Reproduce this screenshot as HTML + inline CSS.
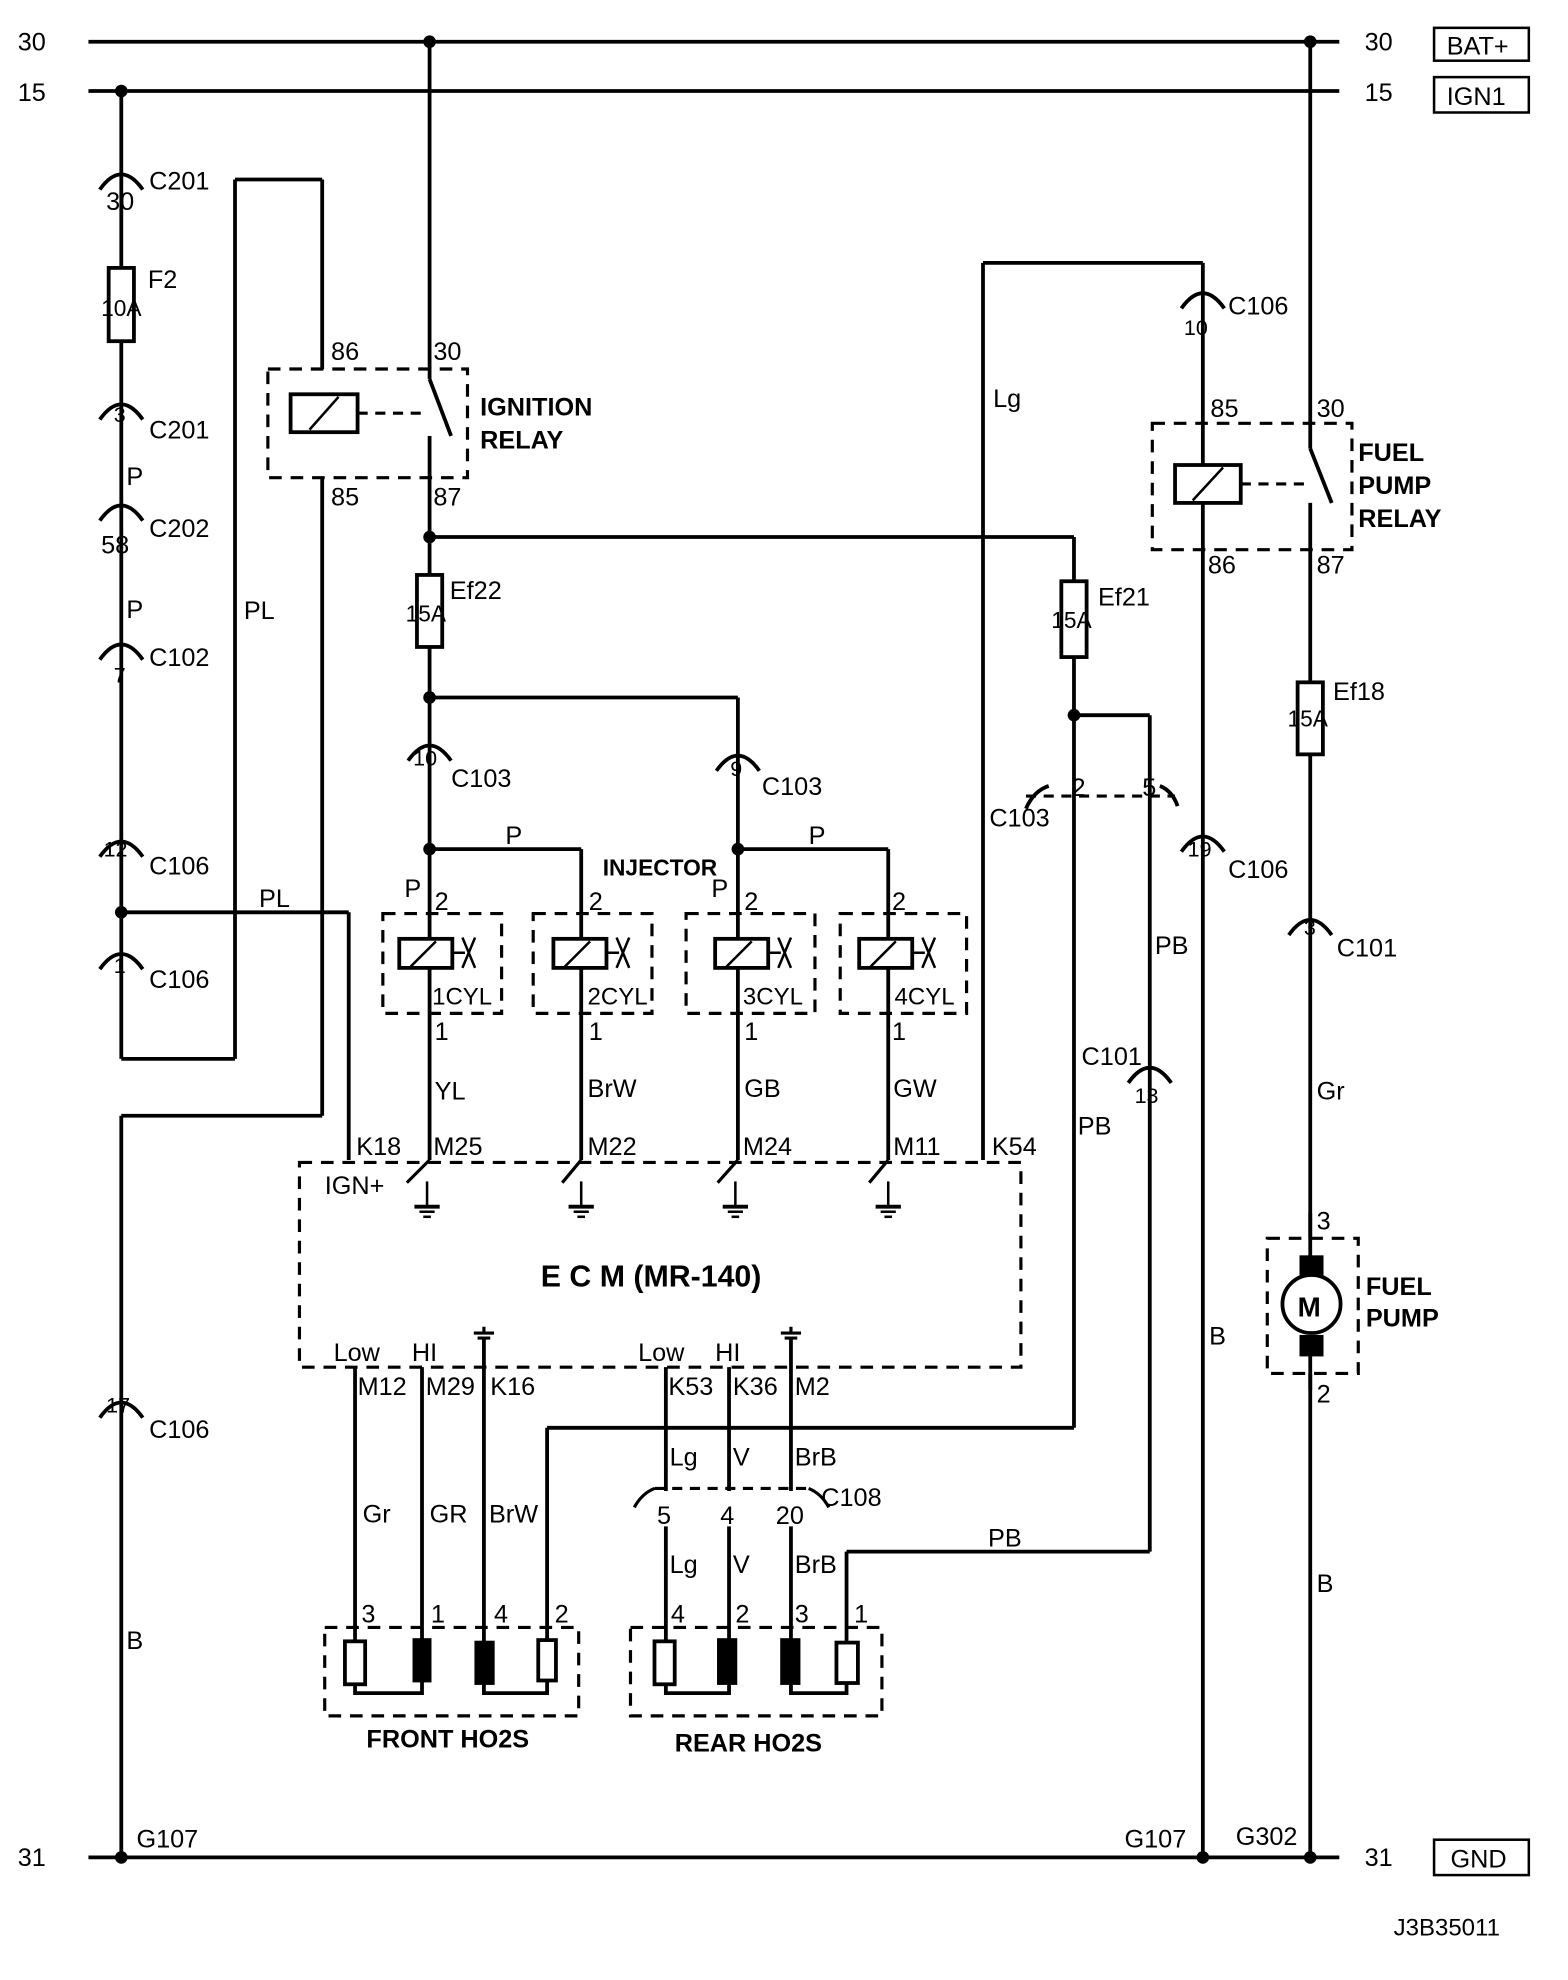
<!DOCTYPE html>
<html><head><meta charset="utf-8"><style>
html,body{margin:0;padding:0;background:#fff;}
svg{display:block;}
text{font-family:"Liberation Sans",sans-serif;font-size:20px;fill:#000;}
.b{font-weight:bold;}
</style></head><body>
<svg width="1568" height="1980" viewBox="0 0 1241 1567" xmlns="http://www.w3.org/2000/svg">
<defs>
<g id="cn"><path d="M-17,2 Q0,-22 17,2" fill="none" stroke="#000" stroke-width="3"/></g>
<g id="gnd"><line x1="0" y1="0" x2="0" y2="20" stroke="#000" stroke-width="2"/><line x1="-10" y1="20" x2="10" y2="20" stroke="#000" stroke-width="3"/><line x1="-6" y1="24" x2="6" y2="24" stroke="#000" stroke-width="2"/><line x1="-3" y1="28" x2="3" y2="28" stroke="#000" stroke-width="2"/></g>
</defs>
<g stroke="#000" stroke-width="3" fill="none">
<line x1="70" y1="33" x2="1060" y2="33"/>
<line x1="70" y1="72" x2="1060" y2="72"/>
<line x1="70" y1="1470" x2="1060" y2="1470"/>
<line x1="96" y1="72" x2="96" y2="838"/>
<line x1="96" y1="838" x2="186" y2="838"/>
<line x1="186" y1="838" x2="186" y2="142"/>
<line x1="186" y1="142" x2="255" y2="142"/>
<line x1="255" y1="142" x2="255" y2="292"/>
<line x1="255" y1="378" x2="255" y2="883"/>
<line x1="255" y1="883" x2="96" y2="883"/>
<line x1="96" y1="883" x2="96" y2="1470"/>
<line x1="96" y1="722" x2="276" y2="722"/>
<line x1="276" y1="722" x2="276" y2="918"/>
<rect x="212" y="292" width="158" height="86" stroke-dasharray="10,7" stroke-width="2.5"/>
<rect x="230" y="312" width="53" height="30" fill="#fff"/>
<line x1="245" y1="340" x2="268" y2="314" stroke-width="2"/>
<line x1="283" y1="327" x2="338" y2="327" stroke-dasharray="8,6" stroke-width="2.5"/>
<line x1="340" y1="33" x2="340" y2="300"/>
<line x1="340" y1="300" x2="357" y2="345"/>
<line x1="340" y1="345" x2="340" y2="378"/>
<line x1="340" y1="378" x2="340" y2="455"/>
<line x1="340" y1="425" x2="850" y2="425"/>
<line x1="340" y1="512" x2="340" y2="918"/>
<line x1="340" y1="552" x2="584" y2="552"/>
<line x1="584" y1="552" x2="584" y2="918"/>
<line x1="340" y1="672" x2="460" y2="672"/>
<line x1="460" y1="672" x2="460" y2="918"/>
<line x1="584" y1="672" x2="703" y2="672"/>
<line x1="703" y1="672" x2="703" y2="918"/>
<line x1="850" y1="425" x2="850" y2="460"/>
<line x1="850" y1="520" x2="850" y2="1130"/>
<line x1="850" y1="566" x2="910" y2="566"/>
<line x1="910" y1="566" x2="910" y2="1228"/>
<line x1="910" y1="1228" x2="670" y2="1228"/>
<line x1="670" y1="1228" x2="670" y2="1300"/>
<line x1="850" y1="1130" x2="433" y2="1130"/>
<line x1="433" y1="1130" x2="433" y2="1300"/>
<line x1="812" y1="630" x2="930" y2="630" stroke-dasharray="8,6" stroke-width="2.5"/>
<line x1="778" y1="918" x2="778" y2="208"/>
<line x1="778" y1="208" x2="952" y2="208"/>
<line x1="952" y1="208" x2="952" y2="1470"/>
<rect x="912" y="335" width="158" height="100" stroke-dasharray="10,7" stroke-width="2.5"/>
<rect x="930" y="368" width="52" height="30" fill="#fff"/>
<line x1="944" y1="396" x2="968" y2="370" stroke-width="2"/>
<line x1="982" y1="383" x2="1035" y2="383" stroke-dasharray="8,6" stroke-width="2.5"/>
<line x1="1037" y1="33" x2="1037" y2="355"/>
<line x1="1037" y1="355" x2="1054" y2="398"/>
<line x1="1037" y1="398" x2="1037" y2="1470"/>
<rect x="1003" y="980" width="72" height="107" stroke-dasharray="10,7" stroke-width="2.5" fill="#fff"/>
<rect x="1030" y="995" width="16" height="14" fill="#000"/>
<rect x="1030" y="1058" width="16" height="14" fill="#000"/>
<circle cx="1038" cy="1032" r="23" fill="#fff"/>
<line x1="1037" y1="960" x2="1037" y2="995"/>
<line x1="1037" y1="1072" x2="1037" y2="1100"/>
<rect x="86" y="212" width="20" height="58" fill="#fff"/>
<rect x="330" y="455" width="20" height="57" fill="#fff"/>
<rect x="840" y="460" width="20" height="60" fill="#fff"/>
<rect x="1027" y="540" width="20" height="57" fill="#fff"/>
<g stroke-dasharray="10,7" stroke-width="2.5">
<rect x="303" y="723" width="94" height="79"/>
<rect x="422" y="723" width="94" height="79"/>
<rect x="543" y="723" width="102" height="79"/>
<rect x="665" y="723" width="100" height="79"/>
</g>
<g fill="#fff">
<rect x="316" y="743" width="42" height="23"/>
<rect x="438" y="743" width="42" height="23"/>
<rect x="566" y="743" width="42" height="23"/>
<rect x="680" y="743" width="42" height="23"/>
</g>
<g stroke-width="2">
<path d="M325,765 L345,745 M358,754 L368,754 M366,742 L376,766 M376,742 L366,766"/>
<path d="M447,765 L467,745 M480,754 L490,754 M488,742 L498,766 M498,742 L488,766"/>
<path d="M575,765 L595,745 M608,754 L618,754 M616,742 L626,766 M626,742 L616,766"/>
<path d="M689,765 L709,745 M722,754 L732,754 M730,742 L740,766 M740,742 L730,766"/>
</g>
<rect x="237" y="920" width="571" height="162" stroke-dasharray="10,7" stroke-width="2.5"/>
<g stroke-width="2.5">
<path d="M340,918 L322,936 M460,918 L445,936 M584,918 L568,936 M703,918 L688,936"/>
</g>
<line x1="281" y1="1082" x2="281" y2="1300"/>
<line x1="334" y1="1082" x2="334" y2="1300"/>
<line x1="383" y1="1060" x2="383" y2="1300"/>
<line x1="527" y1="1082" x2="527" y2="1180"/>
<line x1="577" y1="1082" x2="577" y2="1180"/>
<line x1="626" y1="1060" x2="626" y2="1180"/>
<line x1="527" y1="1208" x2="527" y2="1300"/>
<line x1="577" y1="1208" x2="577" y2="1300"/>
<line x1="626" y1="1208" x2="626" y2="1300"/>
<path d="M502,1193 Q508,1182 518,1178" stroke-width="2.5"/>
<line x1="518" y1="1178" x2="640" y2="1178" stroke-dasharray="8,6" stroke-width="2.5"/>
<path d="M640,1178 Q650,1182 656,1193" stroke-width="2.5"/>
<rect x="257" y="1288" width="201" height="70" stroke-dasharray="10,7" stroke-width="2.5"/>
<rect x="499" y="1288" width="199" height="70" stroke-dasharray="10,7" stroke-width="2.5"/>
<rect x="273" y="1299" width="16" height="34" fill="#fff"/>
<rect x="328" y="1298" width="12" height="32" fill="#000"/>
<rect x="377" y="1300" width="13" height="32" fill="#000"/>
<rect x="426" y="1298" width="14" height="32" fill="#fff"/>
<path d="M281,1333 L281,1340 L334,1340 L334,1330 M383,1332 L383,1340 L433,1340 L433,1330"/>
<rect x="518" y="1299" width="16" height="34" fill="#fff"/>
<rect x="569" y="1298" width="13" height="34" fill="#000"/>
<rect x="619" y="1298" width="13" height="34" fill="#000"/>
<rect x="662" y="1300" width="17" height="32" fill="#fff"/>
<path d="M527,1333 L527,1340 L577,1340 L577,1332 M626,1332 L626,1340 L670,1340 L670,1332"/>
</g>
<use href="#gnd" x="338" y="935"/>
<use href="#gnd" x="460" y="935"/>
<use href="#gnd" x="582" y="935"/>
<use href="#gnd" x="703" y="935"/>
<g stroke="#000" stroke-width="2.5"><path d="M375,1055 L391,1055 M378,1059 L388,1059 M383,1050 L383,1055 M618,1055 L634,1055 M621,1059 L631,1059 M626,1050 L626,1055"/></g>
<use href="#cn" x="96" y="148"/>
<use href="#cn" x="96" y="330"/>
<use href="#cn" x="96" y="410"/>
<use href="#cn" x="96" y="520"/>
<use href="#cn" x="96" y="676"/>
<use href="#cn" x="96" y="765"/>
<use href="#cn" x="96" y="1120"/>
<use href="#cn" x="340" y="600"/>
<use href="#cn" x="584" y="608"/>
<use href="#cn" x="952" y="242"/>
<use href="#cn" x="952" y="672"/>
<use href="#cn" x="1037" y="738"/>
<use href="#cn" x="910" y="855"/>
<path d="M812,640 Q818,626 830,622 M918,622 Q928,626 932,638" stroke="#000" stroke-width="3" fill="none"/>
<g fill="#000">
<circle cx="340" cy="33" r="5"/><circle cx="1037" cy="33" r="5"/><circle cx="96" cy="72" r="5"/>
<circle cx="96" cy="1470" r="5"/><circle cx="952" cy="1470" r="5"/><circle cx="1037" cy="1470" r="5"/>
<circle cx="340" cy="425" r="5"/><circle cx="340" cy="552" r="5"/><circle cx="340" cy="672" r="5"/>
<circle cx="584" cy="672" r="5"/><circle cx="850" cy="566" r="5"/><circle cx="96" cy="722" r="5"/>
</g>
<g fill="none" stroke="#000" stroke-width="2">
<rect x="1135" y="22" width="75" height="26"/>
<rect x="1135" y="61" width="75" height="28"/>
<rect x="1135" y="1456" width="75" height="28"/>
</g>
<text x="14" y="40">30</text><text x="14" y="80">15</text><text x="14" y="1477">31</text>
<text x="1080" y="40">30</text><text x="1080" y="80">15</text><text x="1080" y="1477">31</text>
<text x="1145" y="43">BAT+</text><text x="1145" y="83">IGN1</text><text x="1148" y="1478">GND</text>
<text x="1103" y="1532" style="font-size:19px">J3B35011</text>
<text x="84" y="166">30</text><text x="118" y="150">C201</text>
<text x="117" y="228">F2</text><text x="80" y="250" style="font-size:18px">10A</text>
<text x="90" y="334" style="font-size:17px">3</text><text x="118" y="347">C201</text>
<text x="100" y="384">P</text>
<text x="80" y="438">58</text><text x="118" y="425">C202</text>
<text x="100" y="489">P</text>
<text x="90" y="540" style="font-size:17px">7</text><text x="118" y="527">C102</text>
<text x="82" y="678" style="font-size:17px">12</text><text x="118" y="692">C106</text>
<text x="90" y="770" style="font-size:17px">1</text><text x="118" y="782">C106</text>
<text x="84" y="1118" style="font-size:17px">17</text><text x="118" y="1138">C106</text>
<text x="100" y="1305">B</text>
<text x="108" y="1462">G107</text>
<text x="193" y="490">PL</text><text x="205" y="718">PL</text>
<text x="262" y="285">86</text><text x="343" y="285">30</text>
<text x="262" y="400">85</text><text x="343" y="400">87</text>
<text x="380" y="329" class="b">IGNITION</text><text x="380" y="355" class="b">RELAY</text>
<text x="356" y="474">Ef22</text><text x="321" y="492" style="font-size:18px">15A</text>
<text x="327" y="606" style="font-size:17px">10</text><text x="357" y="623">C103</text>
<text x="578" y="614" style="font-size:17px">9</text><text x="603" y="629">C103</text>
<text x="400" y="668">P</text><text x="640" y="668">P</text>
<text x="477" y="693" class="b" style="font-size:18px">INJECTOR</text>
<text x="320" y="710">P</text><text x="563" y="710">P</text>
<text x="344" y="720">2</text><text x="466" y="720">2</text><text x="589" y="720">2</text><text x="706" y="720">2</text>
<text x="342" y="795" style="font-size:19px">1CYL</text><text x="465" y="795" style="font-size:19px">2CYL</text>
<text x="588" y="795" style="font-size:19px">3CYL</text><text x="708" y="795" style="font-size:19px">4CYL</text>
<text x="344" y="823">1</text><text x="466" y="823">1</text><text x="589" y="823">1</text><text x="706" y="823">1</text>
<text x="344" y="870">YL</text><text x="465" y="868">BrW</text><text x="589" y="868">GB</text><text x="707" y="868">GW</text>
<text x="282" y="914">K18</text><text x="343" y="914">M25</text><text x="465" y="914">M22</text>
<text x="588" y="914">M24</text><text x="707" y="914">M11</text><text x="785" y="914">K54</text>
<text x="257" y="945">IGN+</text>
<text x="428" y="1018" class="b" style="font-size:24px">E C M (MR-140)</text>
<text x="264" y="1077">Low</text><text x="326" y="1077">HI</text>
<text x="505" y="1077">Low</text><text x="566" y="1077">HI</text>
<text x="283" y="1104">M12</text><text x="337" y="1104">M29</text><text x="388" y="1104">K16</text>
<text x="529" y="1104">K53</text><text x="580" y="1104">K36</text><text x="629" y="1104">M2</text>
<text x="287" y="1205">Gr</text><text x="340" y="1205">GR</text><text x="387" y="1205">BrW</text>
<text x="530" y="1160">Lg</text><text x="580" y="1160">V</text><text x="629" y="1160">BrB</text>
<text x="520" y="1206">5</text><text x="570" y="1206">4</text><text x="614" y="1206">20</text>
<text x="650" y="1192">C108</text>
<text x="530" y="1245">Lg</text><text x="580" y="1245">V</text><text x="629" y="1245">BrB</text>
<text x="782" y="1224">PB</text>
<text x="286" y="1284">3</text><text x="341" y="1284">1</text><text x="391" y="1284">4</text><text x="439" y="1284">2</text>
<text x="531" y="1284">4</text><text x="582" y="1284">2</text><text x="629" y="1284">3</text><text x="676" y="1284">1</text>
<text x="290" y="1383" class="b">FRONT HO2S</text><text x="534" y="1386" class="b">REAR HO2S</text>
<text x="786" y="322">Lg</text>
<text x="937" y="265" style="font-size:17px">10</text><text x="972" y="249">C106</text>
<text x="958" y="330">85</text><text x="1042" y="330">30</text>
<text x="956" y="454">86</text><text x="1042" y="454">87</text>
<text x="1075" y="365" class="b">FUEL</text><text x="1075" y="391" class="b">PUMP</text><text x="1075" y="417" class="b">RELAY</text>
<text x="869" y="479">Ef21</text><text x="832" y="497" style="font-size:18px">15A</text>
<text x="1055" y="554">Ef18</text><text x="1019" y="575" style="font-size:18px">15A</text>
<text x="848" y="630">2</text><text x="904" y="630">5</text>
<text x="783" y="654">C103</text>
<text x="940" y="678" style="font-size:17px">19</text><text x="972" y="695">C106</text>
<text x="1032" y="740" style="font-size:17px">3</text><text x="1058" y="757">C101</text>
<text x="914" y="755">PB</text>
<text x="856" y="843">C101</text><text x="898" y="873" style="font-size:17px">13</text>
<text x="853" y="898">PB</text>
<text x="1042" y="870">Gr</text>
<text x="1042" y="973">3</text><text x="1042" y="1110">2</text>
<text x="1027" y="1042" class="b" style="font-size:22px">M</text>
<text x="1081" y="1025" class="b">FUEL</text><text x="1081" y="1050" class="b">PUMP</text>
<text x="957" y="1064">B</text>
<text x="1042" y="1260">B</text>
<text x="890" y="1462">G107</text><text x="978" y="1460">G302</text>
</svg>
</body></html>
